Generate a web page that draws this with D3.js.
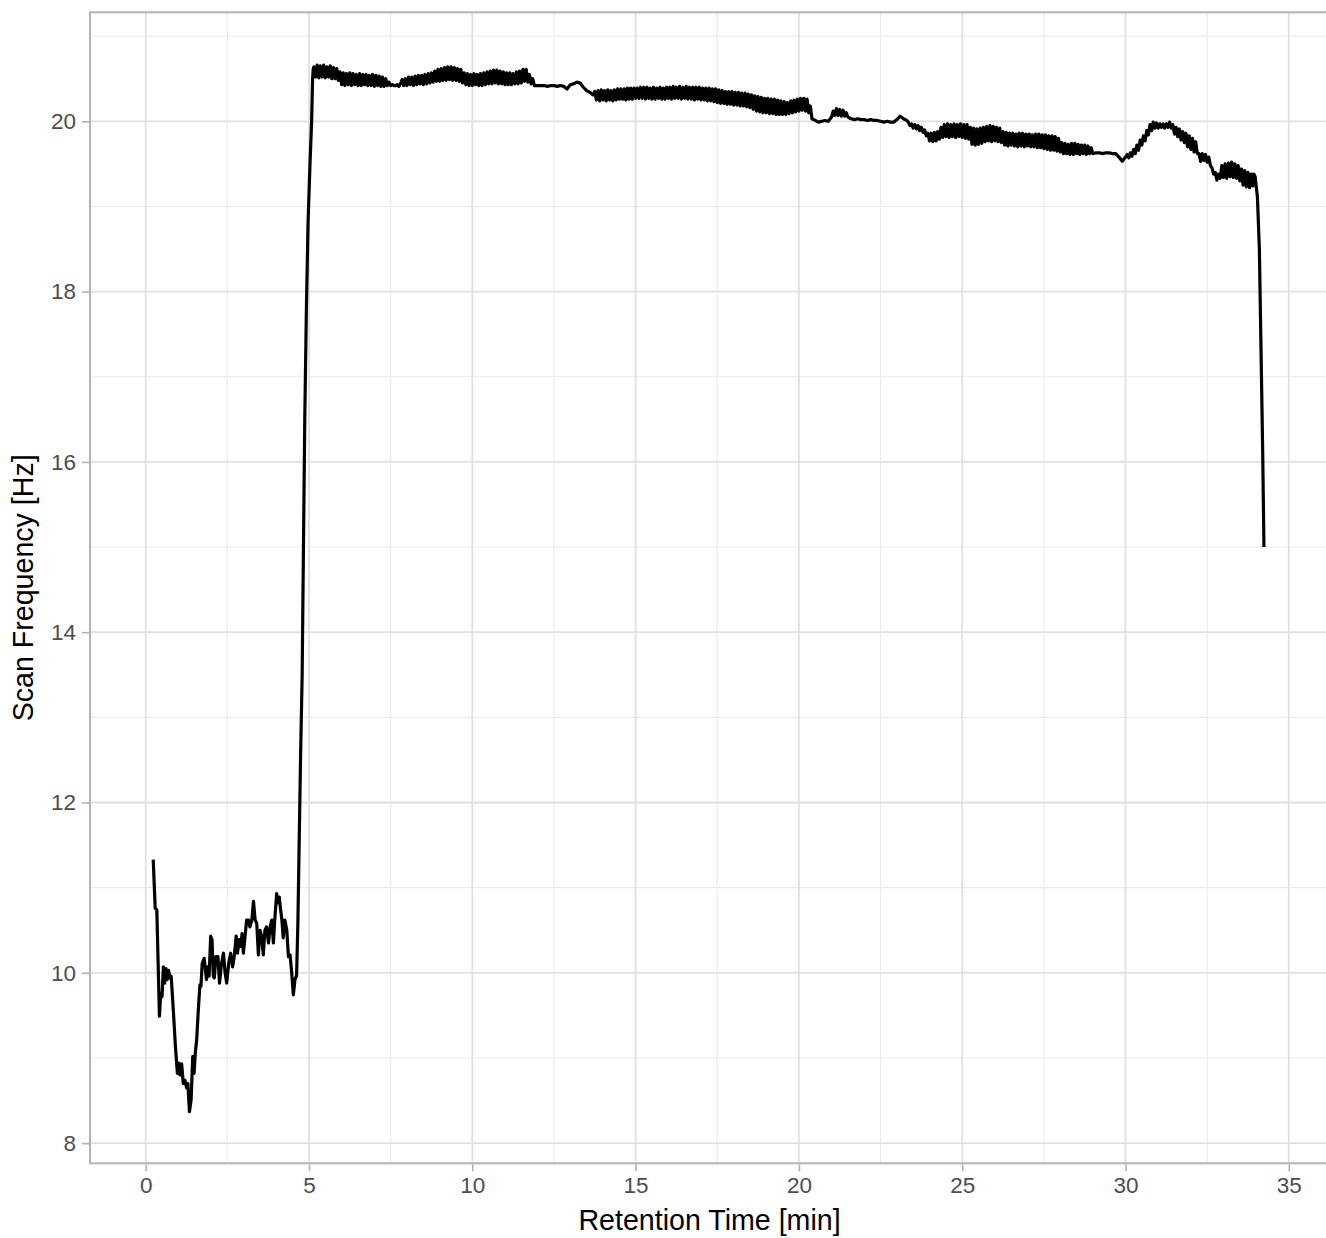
<!DOCTYPE html>
<html>
<head>
<meta charset="utf-8">
<script src="https://cdn.jsdelivr.net/npm/d3@7"></script>
<style>
  html, body { margin: 0; padding: 0; background: #ffffff; }
  svg { display: block; }
</style>
</head>
<body>
<svg id="chart" width="1326" height="1238"></svg>
<script>
// ---- Data ----
const xTicks = [0, 5, 10, 15, 20, 25, 30, 35];
const yTicks = [8, 10, 12, 14, 16, 18, 20];
const xTickLabels = ["0", "5", "10", "15", "20", "25", "30", "35"];
const yTickLabels = ["8", "10", "12", "14", "16", "18", "20"];
const xMinorTicks = [2.5, 7.5, 12.5, 17.5, 22.5, 27.5, 32.5];
const yMinorTicks = [9, 11, 13, 15, 17, 19, 21];
const xLimits = [-1.706, 36.17];
const yLimits = [7.763, 21.28];
const xTitle = "Retention Time [min]";
const yTitle = "Scan Frequency [Hz]";

// [retention time (min), scan frequency (Hz)]
const lowSection = [
  [0.23,11.33],[0.29,10.76],[0.34,10.74],[0.42,9.49],[0.46,9.76],[0.50,9.72],[0.54,10.07],[0.58,9.88],
  [0.62,10.05],[0.66,9.92],[0.70,10.03],[0.74,9.94],[0.78,9.96],[0.85,9.53],[0.91,9.13],[0.97,8.82],
  [1.01,8.94],[1.05,8.80],[1.10,8.93],[1.15,8.70],[1.20,8.74],[1.25,8.65],[1.29,8.70],[1.34,8.37],
  [1.39,8.51],[1.44,9.02],[1.48,8.82],[1.52,9.07],[1.56,9.21],[1.61,9.56],[1.66,9.86],[1.69,9.84],
  [1.73,10.11],[1.79,10.17],[1.83,10.03],[1.86,9.92],[1.90,10.07],[1.94,9.96],[1.99,10.43],[2.03,10.39],
  [2.07,9.96],[2.10,9.94],[2.15,10.19],[2.21,10.19],[2.26,9.88],[2.32,10.11],[2.38,10.23],[2.43,10.00],
  [2.48,9.88],[2.54,10.11],[2.60,10.23],[2.66,10.07],[2.71,10.19],[2.77,10.43],[2.81,10.23],[2.86,10.39],
  [2.91,10.31],[2.95,10.46],[2.99,10.23],[3.04,10.42],[3.09,10.62],[3.15,10.62],[3.19,10.54],[3.25,10.62],
  [3.30,10.84],[3.35,10.62],[3.40,10.58],[3.45,10.21],[3.50,10.50],[3.55,10.43],[3.60,10.21],[3.65,10.50],
  [3.70,10.54],[3.76,10.35],[3.81,10.54],[3.86,10.62],[3.91,10.35],[3.95,10.62],[4.01,10.93],[4.05,10.82],
  [4.09,10.89],[4.13,10.74],[4.17,10.62],[4.21,10.41],[4.26,10.62],[4.32,10.50],[4.37,10.19],[4.42,10.21],
  [4.47,10.00],[4.52,9.74],[4.57,9.92],[4.62,9.97],[4.66,10.60],[4.70,11.56]
];
const riseSection = [
  [4.74,12.5],[4.79,13.5],[4.83,15.0],[4.87,16.5],[4.92,17.8],[4.97,18.8],[5.03,19.5],[5.08,20.0],
  [5.11,20.5],[5.13,20.62]
];
const plateauSection = [
  [5.15,20.64],[5.20,20.52],[5.25,20.66],[5.30,20.51],[5.35,20.65],[5.40,20.52],[5.45,20.66],[5.50,20.51],
  [5.55,20.64],[5.60,20.52],[5.65,20.65],[5.70,20.50],[5.75,20.63],[5.80,20.50],[5.85,20.62],[5.90,20.48],
  [5.95,20.58],[6.00,20.43],[6.05,20.57],[6.10,20.42],[6.15,20.56],[6.20,20.43],[6.25,20.57],[6.30,20.42],
  [6.35,20.56],[6.40,20.43],[6.45,20.55],[6.50,20.42],[6.55,20.56],[6.60,20.42],[6.65,20.55],[6.70,20.43],
  [6.75,20.55],[6.80,20.42],[6.85,20.54],[6.90,20.42],[6.95,20.55],[7.00,20.41],[7.05,20.54],[7.10,20.42],
  [7.15,20.53],[7.20,20.41],[7.25,20.52],[7.30,20.41],[7.35,20.50],[7.40,20.42],[7.45,20.46],[7.50,20.42],
  [7.55,20.43],[7.60,20.42],[7.65,20.42],[7.70,20.43],[7.75,20.41],[7.80,20.44],[7.85,20.49],[7.90,20.42],
  [7.95,20.50],[8.00,20.42],[8.05,20.52],[8.10,20.43],[8.15,20.52],[8.20,20.42],[8.25,20.53],[8.30,20.43],
  [8.35,20.54],[8.40,20.44],[8.45,20.54],[8.50,20.43],[8.55,20.55],[8.60,20.44],[8.65,20.56],[8.70,20.45],
  [8.75,20.57],[8.80,20.46],[8.85,20.59],[8.90,20.47],[8.95,20.61],[9.00,20.47],[9.05,20.62],[9.10,20.48],
  [9.15,20.63],[9.20,20.48],[9.25,20.64],[9.30,20.49],[9.35,20.64],[9.40,20.48],[9.45,20.63],[9.50,20.48],
  [9.55,20.62],[9.60,20.47],[9.65,20.61],[9.70,20.45],[9.75,20.57],[9.80,20.43],[9.85,20.56],[9.90,20.42],
  [9.95,20.55],[10.00,20.42],[10.05,20.56],[10.10,20.43],[10.15,20.55],[10.20,20.42],[10.25,20.56],[10.30,20.42],
  [10.35,20.57],[10.40,20.43],[10.45,20.58],[10.50,20.44],[10.55,20.59],[10.60,20.44],[10.65,20.60],[10.70,20.45],
  [10.75,20.60],[10.80,20.44],[10.85,20.59],[10.90,20.44],[10.95,20.58],[11.00,20.43],[11.05,20.57],[11.10,20.43],
  [11.15,20.57],[11.20,20.43],[11.25,20.56],[11.30,20.44],[11.35,20.58],[11.40,20.44],[11.45,20.59],[11.50,20.45],
  [11.55,20.61],[11.60,20.47],[11.65,20.61],[11.70,20.46],[11.75,20.55],[11.80,20.44],[11.85,20.50],[11.90,20.42],
  [12.0,20.42],[12.1,20.42],[12.2,20.42],[12.3,20.41],[12.4,20.42],[12.5,20.42],[12.6,20.41],[12.7,20.42],
  [12.8,20.41],[12.9,20.38],[13.0,20.43],[13.1,20.44],[13.2,20.46],[13.3,20.45],[13.4,20.40],[13.5,20.36],
  [13.6,20.34],[13.7,20.31],[13.75,20.35],[13.80,20.25],[13.85,20.36],[13.90,20.24],[13.95,20.37],[14.00,20.25],
  [14.05,20.36],[14.10,20.24],[14.15,20.37],[14.20,20.25],[14.25,20.36],[14.30,20.24],[14.35,20.37],[14.40,20.25],
  [14.45,20.38],[14.50,20.26],[14.55,20.38],[14.60,20.26],[14.65,20.38],[14.70,20.25],[14.75,20.39],[14.80,20.26],
  [14.85,20.39],[14.90,20.26],[14.95,20.39],[15.00,20.27],[15.05,20.39],[15.10,20.27],[15.15,20.40],[15.20,20.27],
  [15.25,20.40],[15.30,20.26],[15.35,20.40],[15.40,20.27],[15.45,20.39],[15.50,20.26],[15.55,20.40],[15.60,20.26],
  [15.65,20.39],[15.70,20.27],[15.75,20.40],[15.80,20.26],[15.85,20.39],[15.90,20.26],[15.95,20.40],[16.00,20.27],
  [16.05,20.40],[16.10,20.26],[16.15,20.41],[16.20,20.27],[16.25,20.40],[16.30,20.27],[16.35,20.41],[16.40,20.26],
  [16.45,20.40],[16.50,20.27],[16.55,20.41],[16.60,20.26],[16.65,20.40],[16.70,20.26],[16.75,20.40],[16.80,20.25],
  [16.85,20.40],[16.90,20.26],[16.95,20.40],[17.00,20.25],[17.05,20.39],[17.10,20.25],[17.15,20.39],[17.20,20.24],
  [17.25,20.39],[17.30,20.24],[17.35,20.38],[17.40,20.23],[17.45,20.38],[17.50,20.22],[17.55,20.37],[17.60,20.21],
  [17.65,20.36],[17.70,20.21],[17.75,20.35],[17.80,20.20],[17.85,20.35],[17.90,20.20],[17.95,20.35],[18.00,20.19],
  [18.05,20.34],[18.10,20.19],[18.15,20.34],[18.20,20.18],[18.25,20.33],[18.30,20.18],[18.35,20.33],[18.40,20.17],
  [18.45,20.32],[18.50,20.16],[18.55,20.31],[18.60,20.14],[18.65,20.30],[18.70,20.12],[18.75,20.29],[18.80,20.11],
  [18.85,20.28],[18.90,20.10],[18.95,20.27],[19.00,20.10],[19.05,20.27],[19.10,20.09],[19.15,20.26],[19.20,20.09],
  [19.25,20.26],[19.30,20.08],[19.35,20.25],[19.40,20.08],[19.45,20.24],[19.50,20.08],[19.55,20.23],[19.60,20.08],
  [19.65,20.22],[19.70,20.09],[19.75,20.24],[19.80,20.10],[19.85,20.25],[19.90,20.11],[19.95,20.26],[20.00,20.12],
  [20.05,20.27],[20.10,20.13],[20.15,20.27],[20.20,20.12],[20.25,20.26],[20.30,20.10],[20.35,20.18],[20.40,20.03],
  [20.50,20.01],[20.60,19.99],[20.70,20.00],[20.80,20.01],[20.90,20.00],[21.00,20.05],[21.05,20.12],[21.10,20.07],
  [21.15,20.15],[21.20,20.07],[21.25,20.14],[21.30,20.06],[21.35,20.13],[21.40,20.06],[21.45,20.10],[21.50,20.05],
  [21.6,20.03],[21.7,20.02],[21.8,20.03],[21.9,20.02],[22.0,20.02],[22.1,20.01],[22.2,20.02],[22.3,20.01],
  [22.4,20.01],[22.5,20.00],[22.6,19.99],[22.7,20.00],[22.8,19.99],[22.9,19.99],[23.0,20.02],[23.1,20.06],
  [23.2,20.03],[23.3,20.01],[23.35,19.99],[23.40,19.95],[23.45,19.97],[23.50,19.92],[23.55,19.96],[23.60,19.91],
  [23.65,19.95],[23.70,19.89],[23.75,19.93],[23.80,19.87],[23.85,19.90],[23.90,19.83],[23.95,19.86],[24.00,19.77],
  [24.05,19.86],[24.10,19.76],[24.15,19.87],[24.20,19.77],[24.25,19.88],[24.30,19.79],[24.35,19.93],[24.40,19.81],
  [24.45,19.96],[24.50,19.82],[24.55,19.97],[24.60,19.81],[24.65,19.96],[24.70,19.82],[24.75,19.97],[24.80,19.81],
  [24.85,19.96],[24.90,19.82],[24.95,19.97],[25.00,19.81],[25.05,19.96],[25.10,19.80],[25.15,19.96],[25.20,19.79],
  [25.25,19.93],[25.30,19.73],[25.35,19.92],[25.40,19.72],[25.45,19.91],[25.50,19.73],[25.55,19.92],[25.60,19.74],
  [25.65,19.93],[25.70,19.76],[25.75,19.94],[25.80,19.77],[25.85,19.95],[25.90,19.76],[25.95,19.94],[26.00,19.77],
  [26.05,19.93],[26.10,19.76],[26.15,19.92],[26.20,19.75],[26.25,19.88],[26.30,19.72],[26.35,19.87],[26.40,19.71],
  [26.45,19.86],[26.50,19.72],[26.55,19.86],[26.60,19.71],[26.65,19.85],[26.70,19.70],[26.75,19.86],[26.80,19.71],
  [26.85,19.86],[26.90,19.70],[26.95,19.85],[27.00,19.71],[27.05,19.85],[27.10,19.70],[27.15,19.84],[27.20,19.70],
  [27.25,19.85],[27.30,19.69],[27.35,19.85],[27.40,19.69],[27.45,19.84],[27.50,19.68],[27.55,19.84],[27.60,19.67],
  [27.65,19.83],[27.70,19.66],[27.75,19.83],[27.80,19.66],[27.85,19.82],[27.90,19.65],[27.95,19.80],[28.00,19.64],
  [28.05,19.75],[28.10,19.62],[28.15,19.74],[28.20,19.62],[28.25,19.73],[28.30,19.61],[28.35,19.74],[28.40,19.61],
  [28.45,19.74],[28.50,19.62],[28.55,19.73],[28.60,19.61],[28.65,19.72],[28.70,19.62],[28.75,19.72],[28.80,19.61],
  [28.85,19.71],[28.90,19.62],[28.95,19.69],[29.00,19.62],[29.1,19.63],[29.2,19.63],[29.3,19.62],[29.4,19.63],
  [29.5,19.63],[29.6,19.62],[29.7,19.62],[29.8,19.58],[29.9,19.53],[30.0,19.58],[30.05,19.61],[30.10,19.57],
  [30.15,19.63],[30.20,19.59],[30.25,19.67],[30.30,19.62],[30.35,19.72],[30.40,19.66],[30.45,19.78],[30.50,19.72],
  [30.55,19.83],[30.60,19.77],[30.65,19.89],[30.70,19.84],[30.75,19.96],[30.80,19.89],[30.85,19.99],[30.90,19.92],
  [30.95,19.98],[31.00,19.92],[31.05,19.97],[31.10,19.93],[31.15,19.97],[31.20,19.92],[31.25,19.97],[31.30,19.93],
  [31.35,19.99],[31.40,19.92],[31.45,19.96],[31.50,19.85],[31.55,19.93],[31.60,19.82],[31.65,19.91],[31.70,19.78],
  [31.75,19.88],[31.80,19.75],[31.85,19.86],[31.90,19.70],[31.95,19.83],[32.00,19.67],[32.05,19.80],[32.10,19.64],
  [32.15,19.76],[32.20,19.62],[32.25,19.62],[32.30,19.53],[32.35,19.62],[32.40,19.54],[32.45,19.61],[32.50,19.52],
  [32.55,19.58],[32.60,19.48],[32.65,19.45],[32.70,19.38],[32.75,19.40],[32.80,19.31],[32.85,19.38],[32.90,19.33],
  [32.95,19.48],[33.00,19.34],[33.05,19.50],[33.10,19.33],[33.15,19.51],[33.20,19.35],[33.25,19.52],[33.30,19.34],
  [33.35,19.50],[33.40,19.33],[33.45,19.48],[33.50,19.30],[33.55,19.44],[33.60,19.25],[33.65,19.42],[33.70,19.23],
  [33.75,19.40],[33.80,19.22],[33.85,19.38],[33.90,19.24],[33.93,19.38]
];
const dropSection = [
  [33.97,19.35],[34.04,19.11],[34.10,18.49],[34.15,17.31],[34.20,16.14],[34.24,15.0]
];

// ---- Layout ----
const W = 1326, H = 1238;
const panel = { left: 90, top: 12.3, right: 1327, bottom: 1163.3 };
const svg = d3.select("#chart");
svg.append("rect").attr("width", W).attr("height", H).attr("fill", "#ffffff");

const x = d3.scaleLinear().domain(xLimits).range([panel.left, panel.right]);
const y = d3.scaleLinear().domain(yLimits).range([panel.bottom, panel.top]);

const FONT = "'Liberation Sans', Arial, Helvetica, sans-serif";

// grid
const grid = svg.append("g");
grid.selectAll("line.xminor").data(xMinorTicks).enter().append("line")
  .attr("x1", d => x(d)).attr("x2", d => x(d))
  .attr("y1", panel.top).attr("y2", panel.bottom)
  .attr("stroke", "#ebebeb").attr("stroke-width", 1.1);
grid.selectAll("line.yminor").data(yMinorTicks).enter().append("line")
  .attr("y1", d => y(d)).attr("y2", d => y(d))
  .attr("x1", panel.left).attr("x2", panel.right)
  .attr("stroke", "#ebebeb").attr("stroke-width", 1.1);
grid.selectAll("line.xmajor").data(xTicks).enter().append("line")
  .attr("x1", d => x(d)).attr("x2", d => x(d))
  .attr("y1", panel.top).attr("y2", panel.bottom)
  .attr("stroke", "#e0e0e0").attr("stroke-width", 1.8);
grid.selectAll("line.ymajor").data(yTicks).enter().append("line")
  .attr("y1", d => y(d)).attr("y2", d => y(d))
  .attr("x1", panel.left).attr("x2", panel.right)
  .attr("stroke", "#e0e0e0").attr("stroke-width", 1.8);

// line
const allPoints = lowSection.concat(riseSection, plateauSection, dropSection);
const line = d3.line().x(d => x(d[0])).y(d => y(d[1]));
svg.append("path").datum(allPoints)
  .attr("d", line)
  .attr("fill", "none")
  .attr("stroke", "#000000")
  .attr("stroke-width", 3.2)
  .attr("stroke-linejoin", "round")
  .attr("stroke-linecap", "butt");

// panel border
svg.append("rect")
  .attr("x", panel.left).attr("y", panel.top)
  .attr("width", panel.right - panel.left).attr("height", panel.bottom - panel.top)
  .attr("fill", "none").attr("stroke", "#b3b3b3").attr("stroke-width", 2);

// axes
const xAxis = d3.axisBottom(x).tickValues(xTicks)
  .tickFormat((d, i) => xTickLabels[i]).tickSize(7).tickPadding(6);
const gx = svg.append("g").attr("transform", `translate(0,${panel.bottom + 1})`).call(xAxis);
gx.select(".domain").remove();
gx.selectAll(".tick line").attr("stroke", "#b3b3b3").attr("stroke-width", 1.6);
gx.selectAll(".tick text").attr("fill", "#4d4d4d").attr("font-size", 22.5)
  .attr("font-family", FONT);

const yAxis = d3.axisLeft(y).tickValues(yTicks)
  .tickFormat((d, i) => yTickLabels[i]).tickSize(7).tickPadding(6);
const gy = svg.append("g").attr("transform", `translate(${panel.left - 1},0)`).call(yAxis);
gy.select(".domain").remove();
gy.selectAll(".tick line").attr("stroke", "#b3b3b3").attr("stroke-width", 1.6);
gy.selectAll(".tick text").attr("fill", "#4d4d4d").attr("font-size", 22.5)
  .attr("font-family", FONT);

// titles
svg.append("text")
  .attr("x", (panel.left + panel.right) / 2 + 1)
  .attr("y", 1230)
  .attr("text-anchor", "middle")
  .attr("font-family", FONT).attr("font-size", 28.6).attr("fill", "#000000")
  .text(xTitle);
svg.append("text")
  .attr("transform", `translate(32.5,${(panel.top + panel.bottom) / 2}) rotate(-90)`)
  .attr("text-anchor", "middle")
  .attr("font-family", FONT).attr("font-size", 28.6).attr("fill", "#000000")
  .text(yTitle);
</script>
</body>
</html>
